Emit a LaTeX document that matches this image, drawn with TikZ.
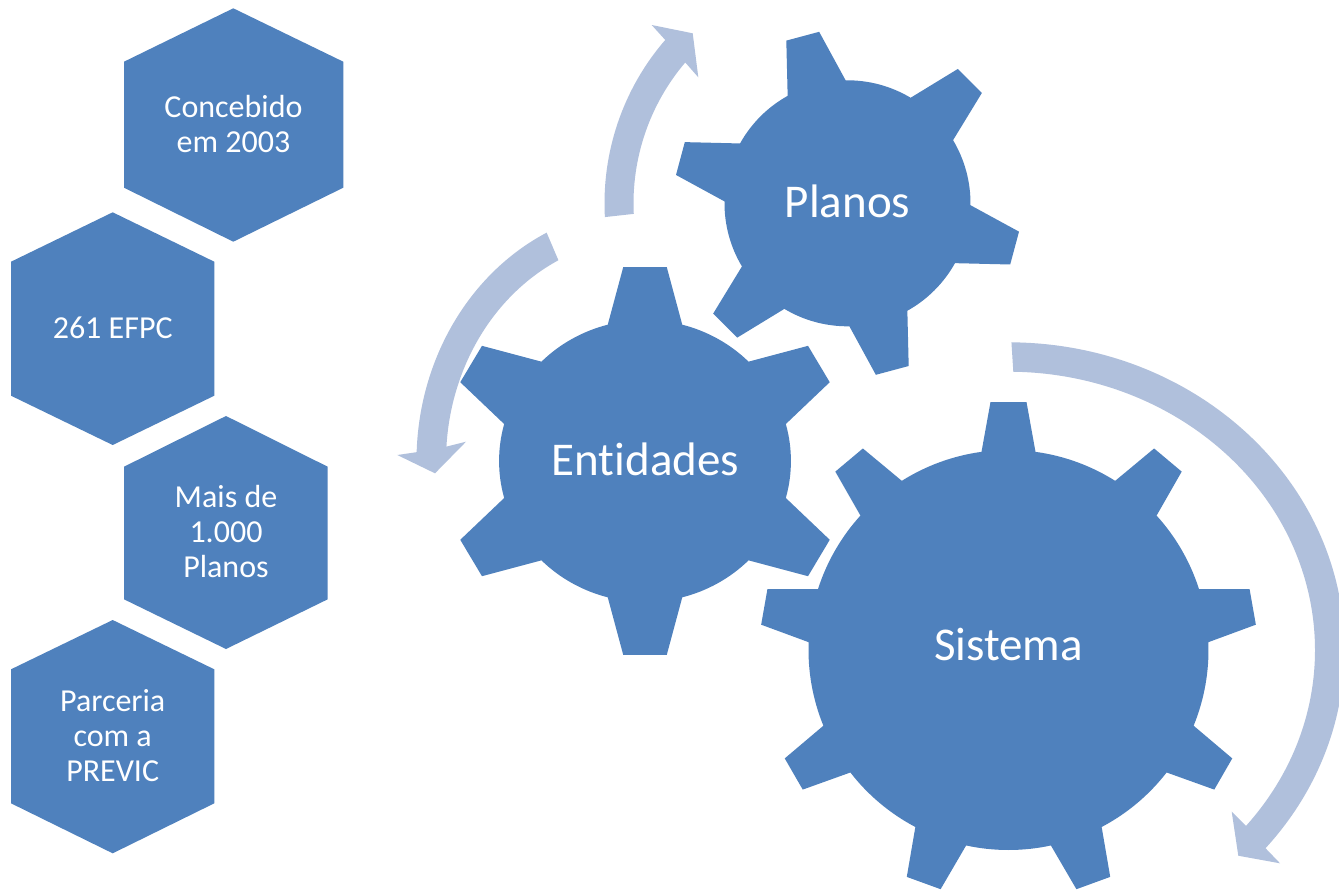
\documentclass[tikz,border=0pt]{standalone}
\usepackage{fontspec}
\setmainfont{Carlito}[Ligatures=NoCommon]
\definecolor{gearblue}{RGB}{79,129,189}
\definecolor{arrowblue}{RGB}{176,192,220}
\newcommand{\gearshape}[7]{%
  \begin{scope}[#1]
    \pgfmathsetmacro\gA{asin(#5/#2)}
    \pgfmathsetmacro\gB{atan(#4/#3)}
    \pgfmathsetmacro\gR{#3/cos(\gB)}
    \pgfmathsetmacro\gS{360/#6}
    \fill[gearblue] ({#7-\gA}:#2) \foreach \k in {1,...,#6} { -- ({#7+(\k-1)*\gS-\gB}:\gR) -- ({#7+(\k-1)*\gS+\gB}:\gR) -- ({#7+(\k-1)*\gS+\gA}:#2) arc[start angle={#7+(\k-1)*\gS+\gA}, end angle={#7+\k*\gS-\gA}, radius=#2] } -- cycle;
  \end{scope}}
\tikzset{
  hexfill/.style={fill=gearblue},
  hextext/.style={text=white, align=center, inner sep=0pt, font=\fontsize{16}{17.5}\selectfont},
  geartext/.style={text=white, inner sep=0pt, anchor=base, font=\fontsize{23.5}{27}\selectfont},
  arrowfill/.style={fill=arrowblue}
}
\begin{document}
\begin{tikzpicture}[x=0.5pt,y=0.5pt]
\clip (0,0) rectangle (1339,-890);
\fill[white] (0,0) rectangle (1339,-890);

% hexagons
\fill[hexfill] (233.3,-8.3) -- (343.3,-61.7) -- (343.3,-187.7) -- (233.3,-241.7) -- (124,-187.7) -- (124,-61.7) -- cycle;
\node[hextext] (h1) at (233.5,-124) {Concebido\\em 2003};
\fill[hexfill] (112.7,-212.3) -- (214.3,-261.7) -- (214.3,-395.7) -- (112.7,-445) -- (11,-395.7) -- (11,-261.7) -- cycle;
\node[hextext] (h2) at (112.7,-327.5) {261 EFPC};
\fill[hexfill] (226,-416) -- (327.7,-466.7) -- (327.7,-599.3) -- (226,-649) -- (124,-599.3) -- (124,-466.7) -- cycle;
\node[hextext] (h3) at (226,-531.5) {Mais de\\1.000\\Planos};
\fill[hexfill] (112.7,-620) -- (214.3,-669.3) -- (214.3,-803.3) -- (112.7,-853.3) -- (11,-803.3) -- (11,-669.3) -- cycle;
\node[hextext] (h4) at (112.7,-735.5) {Parceria\\com a\\PREVIC};

% circular arrows
\begin{scope}[shift={(847.5,-203.3)}]
  \fill[arrowfill] (183.2:243 and 247) arc[start angle=183.2, end angle=138.6, x radius=243, y radius=247]
    -- (-195.8,178.3) -- (-154.8,170) -- (-149.2,126)
    -- (139.3:214 and 216) arc[start angle=139.3, end angle=182.8, x radius=214, y radius=216] -- cycle;
\end{scope}
\begin{scope}[shift={(645,-461)}]
  \fill[arrowfill] (115.5:228.5 and 253) arc[start angle=115.5, end angle=178, x radius=228.5, y radius=253]
    -- (-247.7,6) -- (-210,-12.3) -- (-179,19.3)
    -- (176.3:199 and 223) arc[start angle=176.3, end angle=115.8, x radius=199, y radius=223] -- cycle;
\end{scope}
\begin{scope}[shift={(1008.5,-650)}]
  \fill[arrowfill] (89.5:336 and 307.7) arc[start angle=89.5, end angle=-40.1, x radius=336, y radius=307.7]
    -- (271.5,-213.3) -- (229.8,-205.7) -- (223.2,-161.7)
    -- (-39.2:306.5 and 278.3) arc[start angle=-39.2, end angle=89.1, x radius=306.5, y radius=278.3] -- cycle;
\end{scope}

% gears
\gearshape{shift={(847.5,-203.3)}}{123}{173}{17}{30}{6}{105}
\node[geartext] (planos) at (847.5,-217.3) {Planos};
\gearshape{shift={(645,-461)},xscale=1.035}{141}{194}{21}{36}{6}{90}
\node[geartext] (entidades) at (645.5,-475) {Entidades};
\gearshape{shift={(1008.5,-650)}}{200}{248}{18}{27}{9}{90}
\node[geartext] (sistema) at (1008.5,-660) {Sistema};
\end{tikzpicture}
\end{document}
